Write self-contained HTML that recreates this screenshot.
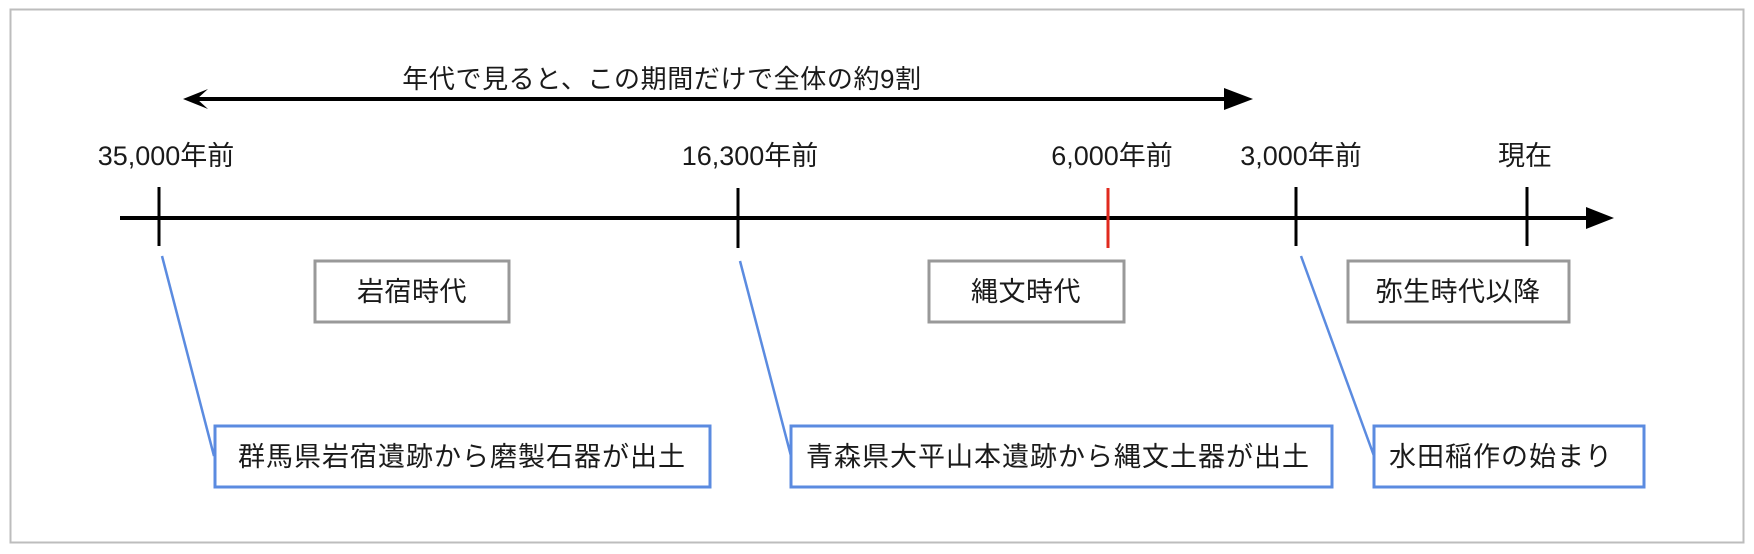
<!DOCTYPE html>
<html><head><meta charset="utf-8"><style>
html,body{margin:0;padding:0;background:#fff;}
svg{display:block;}
text{font-family:"Liberation Sans","Noto Sans CJK JP",sans-serif;fill:#1a1a1a;}
</style></head><body>
<svg width="1754" height="554" viewBox="0 0 1754 554" xmlns="http://www.w3.org/2000/svg">
<rect x="10.5" y="9.5" width="1733" height="533" fill="#fff" stroke="#bdbdbd" stroke-width="2"/>
<line x1="196" y1="99" x2="1228" y2="99" stroke="#000" stroke-width="4"/>
<polygon points="183,99 208,89 197,99 208,109" fill="#000"/>
<polygon points="1253,99 1224,88 1224,110" fill="#000"/>
<text x="662" y="88" font-size="26" text-anchor="middle" letter-spacing="0.6">年代で見ると、この期間だけで全体の約9割</text>
<line x1="120" y1="218" x2="1590" y2="218" stroke="#000" stroke-width="4"/>
<polygon points="1614,218 1586,207 1586,229" fill="#000"/>
<line x1="159" y1="187" x2="159" y2="246" stroke="#000" stroke-width="3"/>
<line x1="738" y1="188" x2="738" y2="248" stroke="#000" stroke-width="3"/>
<line x1="1108" y1="188" x2="1108" y2="248" stroke="#e02a1e" stroke-width="3"/>
<line x1="1296" y1="187" x2="1296" y2="246" stroke="#000" stroke-width="3"/>
<line x1="1527" y1="187" x2="1527" y2="246" stroke="#000" stroke-width="3"/>
<g font-size="27">
<text x="166" y="165" text-anchor="middle">35,000年前</text>
<text x="750" y="165" text-anchor="middle">16,300年前</text>
<text x="1112" y="165" text-anchor="middle">6,000年前</text>
<text x="1301" y="165" text-anchor="middle">3,000年前</text>
<text x="1525" y="165" text-anchor="middle">現在</text>
</g>
<g fill="#fff" stroke="#999" stroke-width="3">
<rect x="315" y="261" width="194" height="61"/>
<rect x="929" y="261" width="195" height="61"/>
<rect x="1348" y="261" width="221" height="61"/>
</g>
<g font-size="27" text-anchor="middle" letter-spacing="0.5">
<text x="412" y="301">岩宿時代</text>
<text x="1026" y="301">縄文時代</text>
<text x="1458" y="301">弥生時代以降</text>
</g>
<g stroke="#5b8be0" stroke-width="2.5">
<line x1="162" y1="256" x2="214" y2="456"/>
<line x1="740" y1="261" x2="791" y2="456"/>
<line x1="1301" y1="256" x2="1374" y2="456"/>
</g>
<g fill="#fff" stroke="#5b8be0" stroke-width="3">
<rect x="215" y="426" width="495" height="61"/>
<rect x="791" y="426" width="541" height="61"/>
<rect x="1374" y="426" width="270" height="61"/>
</g>
<g font-size="27" letter-spacing="1">
<text x="238" y="466">群馬県岩宿遺跡から磨製石器が出土</text>
<text x="806" y="466">青森県大平山本遺跡から縄文土器が出土</text>
<text x="1389" y="466">水田稲作の始まり</text>
</g>
</svg>
</body></html>
